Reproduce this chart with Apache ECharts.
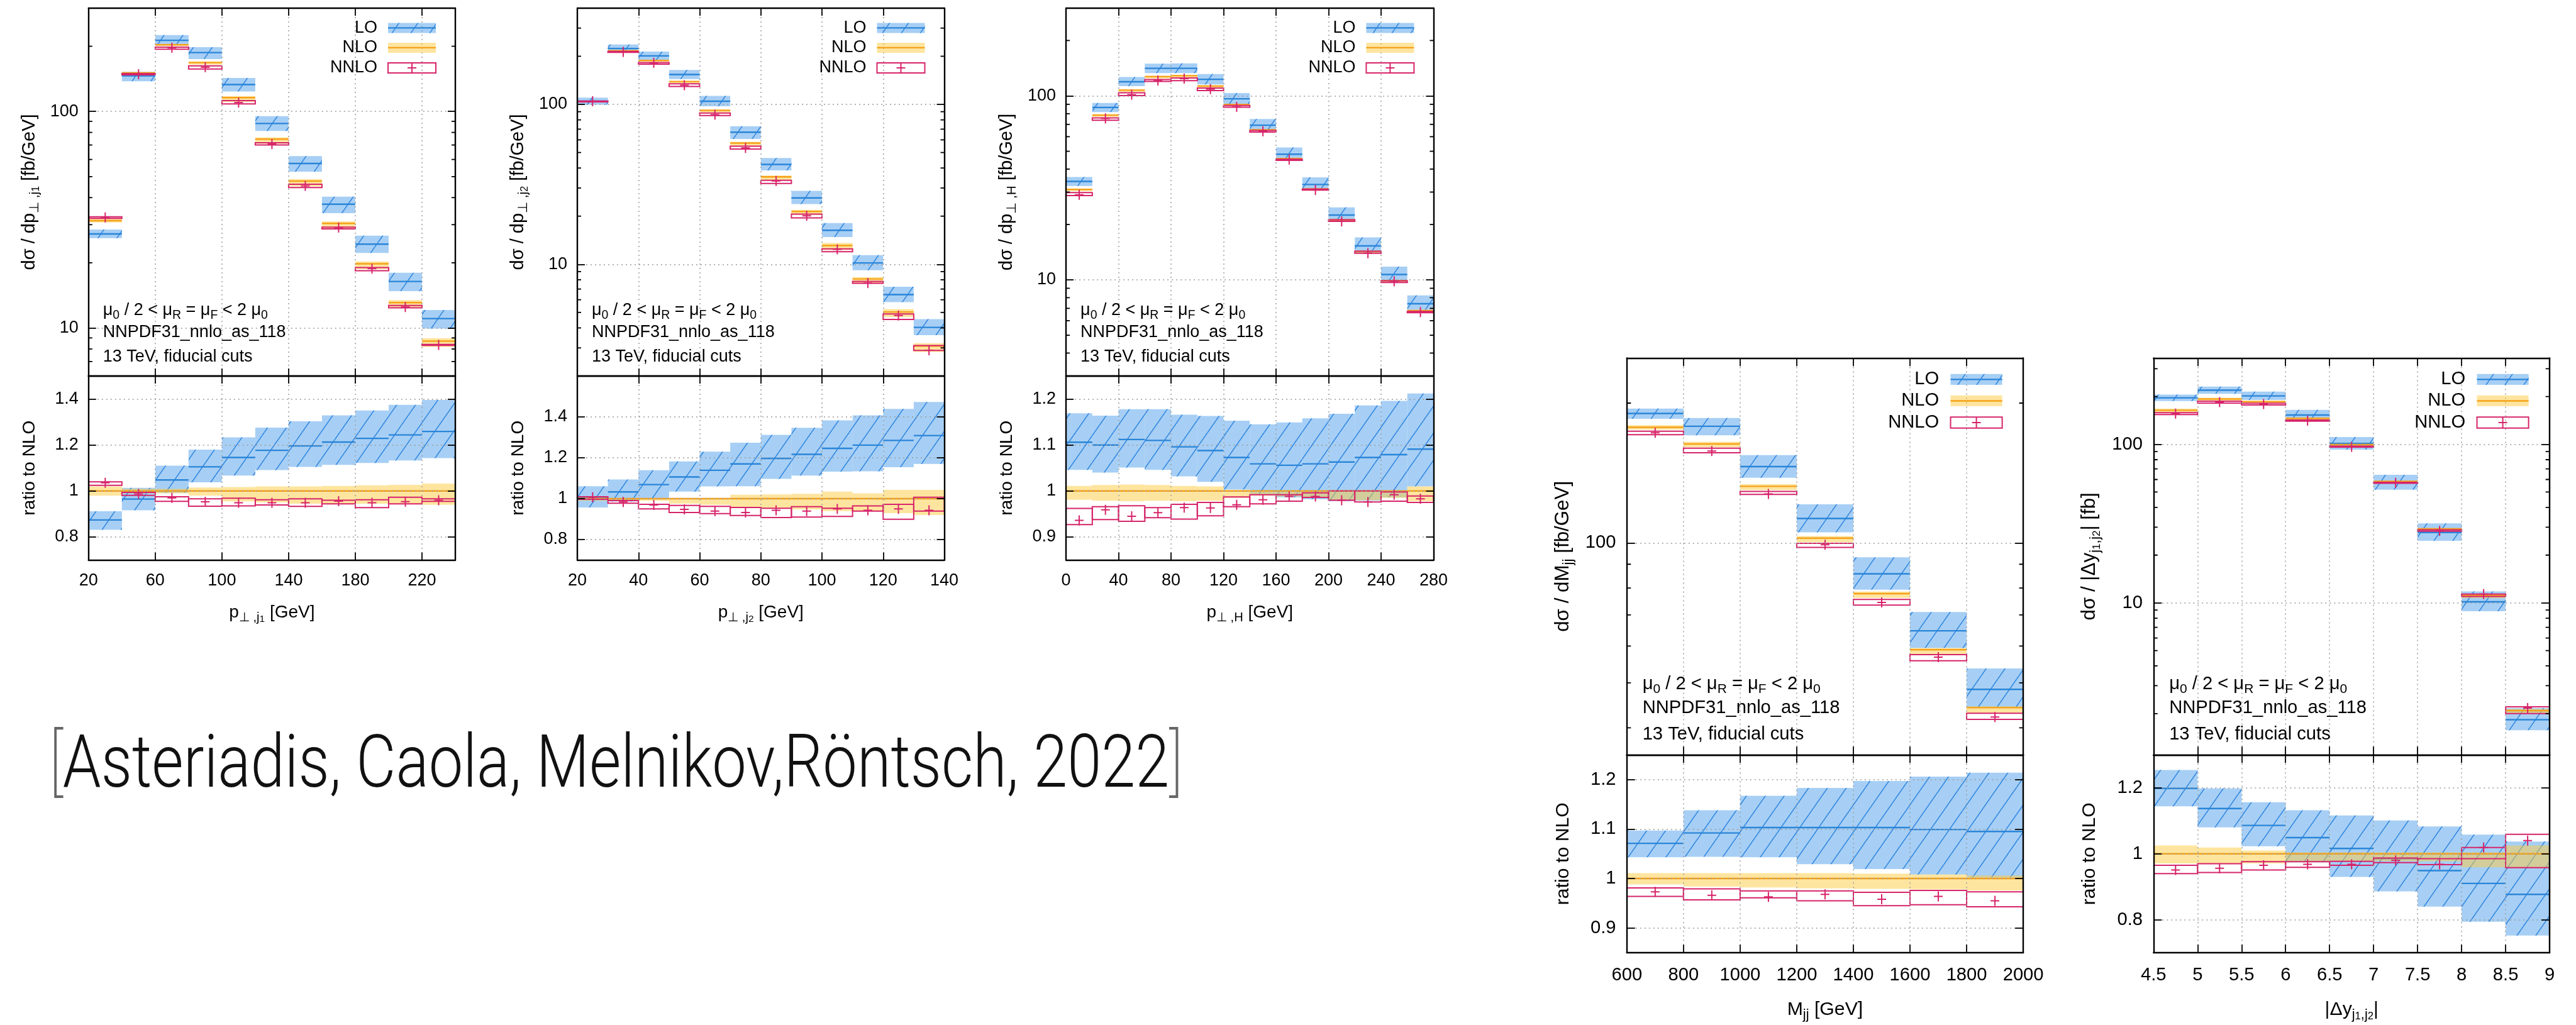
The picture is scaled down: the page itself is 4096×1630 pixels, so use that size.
<!DOCTYPE html>
<html><head><meta charset="utf-8">
<script src="https://cdn.jsdelivr.net/npm/echarts@6/dist/echarts.min.js"></script>
<style>html,body{margin:0;padding:0;background:#fff}#c{width:4096px;height:1630px}</style>
</head><body><div id="c"></div>
<script>
// ---------------- DATA ----------------
// Panel 1: p_T,j1
const p1Edges = [20,40,60,80,100,120,140,160,180,200,220,240];
const p1XTicks = [20,60,100,140,180,220];
const p1RTicks = [0.8,1,1.2,1.4];
const p1Minor = [7,8,9,20,30,40,50,60,70,80,90,200];
const p1LoC  = [27.2,146,213,187,133,88,57.5,37.3,24.4,16.4,11.05];
const p1LoLo = [26.0,137.9,201.4,174.4,123.6,81.3,52.7,33.9,22.2,14.8,9.94];
const p1LoHi = [28.5,152.6,225.3,198.2,142.8,95.1,62.2,40.4,26.7,18.0,12.1];
const p1NloC  = [31.3,150.5,203,168,115.8,74.5,47.7,30.4,19.8,13.1,8.7];
const p1NloLo = [30.7,149.0,201.0,164.6,110.6,70.8,45.1,28.7,18.7,12.4,8.18];
const p1NloHi = [31.9,152.0,205.0,170.5,117.8,76.0,48.7,31.1,20.3,13.45,8.98];
const p1NnloC  = [32.4,148.5,196.9,160.1,109.9,70.7,45.3,29.1,18.8,12.5,8.35];
const p1NnloLo = [32.1,147.6,193.9,156.9,108.3,70.0,44.5,28.7,18.4,12.4,8.31];
const p1NnloHi = [32.6,149.6,197.9,162.3,112.2,71.7,46.1,29.2,19.0,12.7,8.40];
const p1RLoC  = [0.874,0.965,1.048,1.105,1.146,1.177,1.196,1.213,1.229,1.244,1.259];
const p1RLoLo = [0.831,0.916,0.992,1.038,1.067,1.091,1.105,1.114,1.122,1.133,1.143];
const p1RLoHi = [0.912,1.014,1.110,1.180,1.233,1.276,1.303,1.329,1.350,1.375,1.396];
const p1RNloC  = [1,1,1,1,1,1,1,1,1,1,1];
const p1RNloLo = [0.98,0.99,0.99,0.98,0.955,0.95,0.945,0.945,0.945,0.945,0.94];
const p1RNloHi = [1.02,1.01,1.01,1.015,1.017,1.02,1.02,1.022,1.025,1.027,1.032];
const p1RNnloC  = [1.036,0.987,0.970,0.953,0.949,0.949,0.949,0.956,0.949,0.954,0.960];
const p1RNnloLo = [1.025,0.981,0.955,0.934,0.935,0.939,0.933,0.944,0.928,0.944,0.955];
const p1RNnloHi = [1.040,0.994,0.975,0.966,0.969,0.962,0.966,0.960,0.962,0.973,0.966];

// Panel 2: p_T,j2
const p2Edges = [20,30,40,50,60,70,80,90,100,110,120,130,140];
const p2XTicks = [20,40,60,80,100,120,140];
const p2RTicks = [0.8,1,1.2,1.4];
const p2Minor = [3,4,5,6,7,8,9,20,30,40,50,60,70,80,90,200,300];
const p2LoC  = [104.7,223.6,201.0,153.7,104.6,67.0,42.1,26.0,16.3,10.2,6.46,4.03];
const p2LoLo = [99.5,213.5,188.9,143.9,97.3,60.8,38.6,23.8,14.8,9.17,5.80,3.60];
const p2LoHi = [110.3,236.9,214.1,164.3,112.9,73.0,46.2,28.8,18.1,11.4,7.24,4.54];
const p2NloC  = [104,216.5,188,139,91.8,57.3,35.2,21.4,13.1,8.09,5.03,3.08];
const p2NloLo = [103,215,186,135.7,89.0,54.8,33.5,20.3,12.3,7.60,4.67,2.83];
const p2NloHi = [104.5,216.8,188.3,139.3,92.1,58.4,35.9,21.9,13.6,8.30,5.25,3.21];
const p2NnloC  = [104.7,213,182,131.8,86.2,53.4,33.2,20.1,12.4,7.63,4.78,2.90];
const p2NnloLo = [103.7,211.7,178.6,129.5,85.1,52.6,32.0,19.5,12.0,7.60,4.52,2.89];
const p2NnloHi = [104.9,214.6,182.7,134.4,88.3,54.8,33.5,20.6,12.5,7.81,4.89,3.10];
const p2RLoC  = [1.007,1.033,1.069,1.106,1.139,1.170,1.197,1.217,1.246,1.262,1.285,1.309];
const p2RLoLo = [0.957,0.986,1.0,1.035,1.060,1.061,1.097,1.113,1.132,1.134,1.154,1.170];
const p2RLoHi = [1.061,1.094,1.139,1.182,1.230,1.274,1.312,1.347,1.383,1.408,1.439,1.473];
const p2RNloC  = [1,1,1,1,1,1,1,1,1,1,1,1];
const p2RNloLo = [0.99,0.993,0.99,0.976,0.97,0.957,0.953,0.948,0.939,0.939,0.929,0.92];
const p2RNloHi = [1.005,1.002,1.002,1.002,1.003,1.019,1.021,1.024,1.035,1.026,1.043,1.043];
const p2RNnloC  = [1.007,0.984,0.969,0.948,0.939,0.932,0.943,0.939,0.950,0.943,0.950,0.943];
const p2RNnloLo = [0.997,0.978,0.950,0.932,0.927,0.918,0.908,0.910,0.913,0.939,0.899,0.939];
const p2RNnloHi = [1.009,0.991,0.972,0.967,0.962,0.957,0.953,0.961,0.953,0.965,0.972,1.007];

// Panel 3: p_T,H
const p3Edges = [0,20,40,60,80,100,120,140,160,180,200,220,240,260,280];
const p3XTicks = [0,40,80,120,160,200,240,280];
const p3RTicks = [0.9,1,1.1,1.2];
const p3Minor = [4,5,6,7,8,9,20,30,40,50,60,70,80,90,200];
const p3LoC  = [34.3,86.5,119.4,141.2,141.2,123.1,96.4,69.3,48.2,33.0,22.5,15.3,10.7,7.42];
const p3LoLo = [32.4,81.7,112.9,133.1,132.9,115.4,90.1,64.9,45.0,30.6,20.7,14.0,9.76,6.87];
const p3LoHi = [36.2,91.5,126.5,149.8,150.2,131.5,103.5,74.9,52.4,36.1,24.8,17.0,11.8,8.24];
const p3NloC  = [31.0,78.6,107.4,127.2,128.8,113.1,89.8,65.4,45.6,31.2,21.2,14.3,9.9,6.80];
const p3NloLo = [30.4,76.9,105.0,124.5,126.0,110.7,88.5,64.7,45.1,30.7,20.8,14.0,9.75,6.65];
const p3NloHi = [31.3,79.6,108.9,128.9,130.2,114.2,90.0,65.5,45.7,31.3,21.3,14.35,9.95,6.87];
const p3NnloC  = [29.0,75.4,101.5,121.2,124.2,108.9,87.1,64.2,45.05,30.8,20.8,13.96,9.82,6.68];
const p3NnloLo = [28.7,73.7,100.3,119.8,120.9,107.0,86.7,63.6,44.6,30.75,20.78,13.96,9.68,6.63];
const p3NnloHi = [29.8,75.9,104.0,122.6,125.1,110.3,88.6,64.9,45.2,31.1,21.2,14.3,9.88,6.73];
const p3RLoC  = [1.106,1.100,1.112,1.110,1.096,1.088,1.073,1.059,1.056,1.059,1.063,1.073,1.079,1.091];
const p3RLoLo = [1.046,1.040,1.051,1.046,1.032,1.020,1.003,0.992,0.986,0.982,0.978,0.979,0.986,1.010];
const p3RLoHi = [1.169,1.164,1.178,1.178,1.166,1.163,1.153,1.145,1.149,1.158,1.168,1.186,1.196,1.212];
const p3RNloC  = [1,1,1,1,1,1,1,1,1,1,1,1,1,1];
const p3RNloLo = [0.981,0.979,0.978,0.979,0.978,0.979,0.985,0.99,0.988,0.985,0.98,0.98,0.985,0.978];
const p3RNloHi = [1.011,1.013,1.014,1.013,1.011,1.010,1.002,1.001,1.001,1.001,1.001,1.001,1.001,1.01];
const p3RNnloC  = [0.936,0.959,0.945,0.953,0.964,0.963,0.970,0.981,0.988,0.988,0.980,0.976,0.992,0.983];
const p3RNnloLo = [0.927,0.938,0.934,0.942,0.939,0.946,0.966,0.972,0.978,0.986,0.980,0.976,0.978,0.975];
const p3RNnloHi = [0.962,0.966,0.968,0.964,0.971,0.975,0.987,0.992,0.992,0.996,1.0,1.0,0.998,0.989];

// Panel 4: M_jj
const p4Edges = [600,800,1000,1200,1400,1600,1800,2000];
const p4XTicks = [600,800,1000,1200,1400,1600,1800,2000];
const p4RTicks = [0.9,1,1.1,1.2];
const p4Minor = [40,50,60,70,80,90,200];
const p4LoC  = [190.0,178.3,146.0,112.9,85.8,64.7,48.4];
const p4LoLo = [185.0,170.5,138.1,105.4,79.3,59.4,44.3];
const p4LoHi = [194.6,185.8,154.5,121.1,93.1,71.0,53.7];
const p4NloC  = [177.4,163.3,132.4,102.4,77.8,58.9,44.2];
const p4NloLo = [175.3,160.7,130.0,100.4,76.2,57.6,43.1];
const p4NloHi = [179.4,165.1,133.9,103.5,78.6,59.4,44.5];
const p4NnloC  = [172.6,157.7,127.5,99.1,74.5,56.8,42.2];
const p4NnloLo = [171.0,156.3,127.2,97.8,73.5,55.8,41.7];
const p4NnloHi = [174.0,159.9,129.1,99.8,75.6,57.5,43.0];
const p4RLoC  = [1.071,1.092,1.103,1.103,1.103,1.099,1.095];
const p4RLoLo = [1.043,1.044,1.043,1.029,1.019,1.008,1.002];
const p4RLoHi = [1.097,1.138,1.167,1.183,1.197,1.206,1.214];
const p4RNloC  = [1,1,1,1,1,1,1];
const p4RNloLo = [0.988,0.984,0.982,0.980,0.979,0.978,0.976];
const p4RNloHi = [1.011,1.011,1.011,1.011,1.010,1.008,1.006];
const p4RNnloC  = [0.973,0.966,0.963,0.968,0.958,0.964,0.955];
const p4RNnloLo = [0.964,0.957,0.961,0.955,0.945,0.947,0.943];
const p4RNnloHi = [0.981,0.979,0.975,0.975,0.972,0.976,0.973];

// Panel 5: |Delta y_j1,j2|
const p5Edges = [4.5,5,5.5,6,6.5,7,7.5,8,8.5,9];
const p5XTicks = [4.5,5,5.5,6,6.5,7,7.5,8,8.5,9];
const p5RTicks = [0.8,1,1.2];
const p5Minor = [2,3,4,5,6,7,8,9,20,30,40,50,60,70,80,90,200,300];
const p5LoC  = [196.5,219.4,202,152.9,101.2,57.5,27.8,10.15,1.83];
const p5LoLo = [187.6,208.4,190.3,142.0,92.6,51.7,24.6,8.85,1.57];
const p5LoHi = [205.7,231.2,215.0,165.0,111.2,64.3,31.7,11.8,2.17];
const p5NloC  = [164,193,186,145.8,99.6,58.4,29.3,11.15,2.09];
const p5NloLo = [159.2,187.4,180.6,142.0,97.3,57.0,28.6,10.7,2.0];
const p5NloHi = [168.1,196.7,187.9,146.4,100.0,58.6,29.4,11.2,2.14];
const p5NnloC  = [156.0,184.5,179.5,141.1,96.4,57.2,28.4,11.36,2.17];
const p5NnloLo = [154.2,182.0,176.9,139.8,96.1,56.8,28.3,10.98,2.0];
const p5NnloHi = [158.3,187.2,181.5,142.3,97.3,57.6,28.9,11.36,2.21];
const p5RLoC  = [1.198,1.137,1.086,1.049,1.016,0.985,0.949,0.910,0.877];
const p5RLoLo = [1.144,1.080,1.023,0.974,0.930,0.886,0.840,0.794,0.752];
const p5RLoHi = [1.254,1.198,1.156,1.132,1.116,1.101,1.083,1.058,1.037];
const p5RNloC  = [1,1,1,1,1,1,1,1,1];
const p5RNloLo = [0.971,0.971,0.971,0.974,0.977,0.978,0.977,0.959,0.959];
const p5RNloHi = [1.025,1.019,1.010,1.004,1.004,1.004,1.004,1.004,1.025];
const p5RNnloC  = [0.951,0.956,0.965,0.968,0.968,0.980,0.968,1.019,1.040];
const p5RNnloLo = [0.940,0.943,0.951,0.959,0.965,0.973,0.967,0.985,0.958];
const p5RNnloHi = [0.965,0.970,0.976,0.976,0.977,0.987,0.985,1.019,1.059];

const legendNames = ['LO','NLO','NNLO'];
const noteLines = ['μ{s|0} / 2 < μ{s|R} = μ{s|F} < 2 μ{s|0}', 'NNPDF31_nnlo_as_118', '13 TeV, fiducial cuts'];
const citation = '[Asteriadis, Caola, Melnikov,Röntsch, 2022]';

// ---------------- LAYOUT / STYLE ----------------
const FONT = "'Liberation Sans', Arial, Helvetica, sans-serif";
const LO_FILL = 'rgba(95,168,236,0.55)';
const LO_LINE = '#2a85d8';
const NLO_FILL = 'rgba(253,204,64,0.5)';
const NLO_LINE = '#f6a11a';
const NNLO_COL = '#d6246a';

function makeHatch() {
  const w = 30, h = 43;
  const cv = document.createElement('canvas');
  cv.width = w; cv.height = h;
  const ctx = cv.getContext('2d');
  ctx.strokeStyle = 'rgba(38,128,222,0.95)';
  ctx.lineWidth = 1.5;
  [-w, 0, w].forEach(d => { ctx.beginPath(); ctx.moveTo(d, h); ctx.lineTo(d + w, 0); ctx.stroke(); });
  return cv;
}
const HATCH = { image: makeHatch(), repeat: 'repeat' };

const rows = [
  { top: 12.9, mid: 598.0, bottom: 890.5, k: 1 },
  { top: 569.4, mid: 1200.3, bottom: 1515.1, k: 1.08 }
];

const panels = [
  { row:0, left:140.8, right:724.0, edges:p1Edges, xMin:20, xMax:240, xTicks:p1XTicks, yMin:6, yMax:300, rMin:0.7, rMax:1.5, rTicks:p1RTicks, minor:p1Minor,
    main:[p1LoC,p1LoLo,p1LoHi,p1NloC,p1NloLo,p1NloHi,p1NnloC,p1NnloLo,p1NnloHi],
    ratio:[p1RLoC,p1RLoLo,p1RLoHi,p1RNloC,p1RNloLo,p1RNloHi,p1RNnloC,p1RNnloLo,p1RNnloHi],
    yTitle:'dσ / dp{s|⊥ ,j}{ss|1} [fb/GeV]', xTitle:'p{s|⊥ ,j}{ss|1} [GeV]' },
  { row:0, left:918.0, right:1501.5, edges:p2Edges, xMin:20, xMax:140, xTicks:p2XTicks, yMin:2, yMax:400, rMin:0.7, rMax:1.6, rTicks:p2RTicks, minor:p2Minor,
    main:[p2LoC,p2LoLo,p2LoHi,p2NloC,p2NloLo,p2NloHi,p2NnloC,p2NnloLo,p2NnloHi],
    ratio:[p2RLoC,p2RLoLo,p2RLoHi,p2RNloC,p2RNloLo,p2RNloHi,p2RNnloC,p2RNnloLo,p2RNnloHi],
    yTitle:'dσ / dp{s|⊥ ,j}{ss|2} [fb/GeV]', xTitle:'p{s|⊥ ,j}{ss|2} [GeV]' },
  { row:0, left:1695.1, right:2279.4, edges:p3Edges, xMin:0, xMax:280, xTicks:p3XTicks, yMin:3, yMax:300, rMin:0.85, rMax:1.25, rTicks:p3RTicks, minor:p3Minor,
    main:[p3LoC,p3LoLo,p3LoHi,p3NloC,p3NloLo,p3NloHi,p3NnloC,p3NnloLo,p3NnloHi],
    ratio:[p3RLoC,p3RLoLo,p3RLoHi,p3RNloC,p3RNloLo,p3RNloHi,p3RNnloC,p3RNnloLo,p3RNnloHi],
    yTitle:'dσ / dp{s|⊥ ,H} [fb/GeV]', xTitle:'p{s|⊥ ,H} [GeV]' },
  { row:1, left:2586.8, right:3217.1, edges:p4Edges, xMin:600, xMax:2000, xTicks:p4XTicks, yMin:35, yMax:250, rMin:0.85, rMax:1.25, rTicks:p4RTicks, minor:p4Minor,
    main:[p4LoC,p4LoLo,p4LoHi,p4NloC,p4NloLo,p4NloHi,p4NnloC,p4NnloLo,p4NnloHi],
    ratio:[p4RLoC,p4RLoLo,p4RLoHi,p4RNloC,p4RNloLo,p4RNloHi,p4RNnloC,p4RNnloLo,p4RNnloHi],
    yTitle:'dσ / dM{s|jj} [fb/GeV]', xTitle:'M{s|jj} [GeV]' },
  { row:1, left:3424.3, right:4054.1, edges:p5Edges, xMin:4.5, xMax:9, xTicks:p5XTicks, yMin:1.1, yMax:350, rMin:0.7, rMax:1.3, rTicks:p5RTicks, minor:p5Minor,
    main:[p5LoC,p5LoLo,p5LoHi,p5NloC,p5NloLo,p5NloHi,p5NnloC,p5NnloLo,p5NnloHi],
    ratio:[p5RLoC,p5RLoLo,p5RLoHi,p5RNloC,p5RNloLo,p5RNloHi,p5RNnloC,p5RNnloLo,p5RNnloHi],
    yTitle:'dσ / |Δy{s|j}{ss|1}{s|,j}{ss|2}| [fb]', xTitle:'|Δy{s|j}{ss|1}{s|,j}{ss|2}|' }
];

// ---------------- RENDERERS ----------------
function boxPts(api) {
  const a = api.coord([api.value(0), api.value(4)]);
  const b = api.coord([api.value(1), api.value(3)]);
  const c = api.coord([api.value(0), api.value(2)]);
  return { a, b, c, shape: { x: a[0], y: a[1], width: b[0] - a[0], height: b[1] - a[1] } };
}
function renderLO(params, api) {
  const p = boxPts(api);
  return { type: 'group', children: [
    { type: 'rect', shape: p.shape, style: { fill: LO_FILL } },
    { type: 'rect', shape: p.shape, style: { fill: HATCH } },
    { type: 'line', shape: { x1: p.a[0], y1: p.c[1], x2: p.b[0], y2: p.c[1] }, style: { stroke: LO_LINE, lineWidth: 2.4 } }
  ] };
}
function renderNLO(params, api) {
  const p = boxPts(api);
  return { type: 'group', children: [
    { type: 'rect', shape: p.shape, style: { fill: NLO_FILL } },
    { type: 'line', shape: { x1: p.a[0], y1: p.c[1], x2: p.b[0], y2: p.c[1] }, style: { stroke: NLO_LINE, lineWidth: 2.4 } }
  ] };
}
function renderNNLO(params, api) {
  const p = boxPts(api);
  const xm = (p.a[0] + p.b[0]) / 2, ym = p.c[1];
  return { type: 'group', children: [
    { type: 'rect', shape: p.shape, style: { fill: 'none', stroke: NNLO_COL, lineWidth: 2 } },
    { type: 'line', shape: { x1: xm - 7, y1: ym, x2: xm + 7, y2: ym }, style: { stroke: NNLO_COL, lineWidth: 2 } },
    { type: 'line', shape: { x1: xm, y1: ym - 8, x2: xm, y2: ym + 8 }, style: { stroke: NNLO_COL, lineWidth: 2 } }
  ] };
}
function makeMinorRender(L) {
  return function (params, api) {
    const y = api.coord([api.value(0), api.value(1)])[1];
    const cs = params.coordSys;
    return { type: 'group', children: [
      { type: 'line', shape: { x1: cs.x, y1: y, x2: cs.x + L, y2: y }, style: { stroke: '#000', lineWidth: 1.8 } },
      { type: 'line', shape: { x1: cs.x + cs.width - L, y1: y, x2: cs.x + cs.width, y2: y }, style: { stroke: '#000', lineWidth: 1.8 } }
    ] };
  };
}
function rich(fs) {
  return {
    s:  { fontSize: fs * 0.72, lineHeight: fs * 0.72, fontFamily: FONT, fill: '#000', verticalAlign: 'bottom' },
    ss: { fontSize: fs * 0.55, lineHeight: fs * 0.55, fontFamily: FONT, fill: '#000', verticalAlign: 'bottom' }
  };
}
function txt(x, y, text, fs, extra, styleExtra) {
  return Object.assign({ type: 'text', x: x, y: y, z: 100, silent: true,
    style: Object.assign({ text: text, fontSize: fs, fontFamily: FONT, fill: '#000', align: 'left', verticalAlign: 'middle', lineHeight: fs * 1.3, rich: rich(fs) }, styleExtra || {}) }, extra || {});
}
const logFmt = v => { const l = Math.log10(v); return Math.abs(l - Math.round(l)) < 1e-6 ? String(Math.round(v)) : ''; };
const plainFmt = v => String(Math.round(v * 1000) / 1000);

// ---------------- BUILD ----------------
const grids = [], xAxes = [], yAxes = [], series = [], graphics = [];
const axLine = { show: true, onZero: false, lineStyle: { color: '#000', width: 2.4 } };
const tickLS = { color: '#000', width: 1.8 };
const split = { show: true, lineStyle: { color: '#9a9a9a', width: 1.5, type: [2, 5] } };

panels.forEach(p => {
  const r = rows[p.row], k = r.k;
  const W = p.right - p.left;
  const subs = [
    { top: r.top, h: r.mid - r.top, isRatio: false, d: p.main },
    { top: r.mid, h: r.bottom - r.mid, isRatio: true, d: p.ratio }
  ];
  subs.forEach(s => {
    const gi = grids.length;
    grids.push({ left: p.left, top: s.top, width: W, height: s.h, show: false, containLabel: false });
    const xb = { gridIndex: gi, type: 'value', min: p.xMin, max: p.xMax, z: 10, axisLine: axLine,
      axisTick: { show: true, inside: true, length: 12 * k, lineStyle: tickLS, customValues: p.xTicks } };
    xAxes.push(Object.assign({}, xb, { position: 'bottom', splitLine: split,
      axisLabel: { show: s.isRatio, customValues: p.xTicks, formatter: plainFmt, fontSize: 27 * k, fontFamily: FONT, color: '#000', margin: 20 * k } }));
    xAxes.push(Object.assign({}, xb, { position: 'top', splitLine: { show: false }, axisLabel: { show: false } }));
    const yt = s.isRatio ? { type: 'value', min: p.rMin, max: p.rMax } : { type: 'log', logBase: 10, min: p.yMin, max: p.yMax };
    const tick = { show: true, inside: true, length: 12 * k, lineStyle: tickLS };
    if (s.isRatio) tick.customValues = p.rTicks;
    const lab = { fontSize: 27 * k, fontFamily: FONT, color: '#000', margin: 16 * k };
    if (s.isRatio) { lab.customValues = p.rTicks; lab.formatter = plainFmt; }
    else { lab.formatter = logFmt; lab.showMinLabel = false; lab.showMaxLabel = false; }
    yAxes.push(Object.assign({ gridIndex: gi, position: 'left', z: 10, axisLine: axLine, axisTick: tick, splitLine: split, axisLabel: lab }, yt));
    yAxes.push(Object.assign({ gridIndex: gi, position: 'right', z: 10, axisLine: axLine, axisTick: tick, splitLine: { show: false }, axisLabel: { show: false } }, yt));

    const d = s.d;
    const mk = (c, lo, hi) => c.map((v, i) => [p.edges[i], p.edges[i + 1], v, lo[i], hi[i]]);
    const base = { type: 'custom', coordinateSystem: 'cartesian2d', xAxisIndex: 2 * gi, yAxisIndex: 2 * gi, clip: true, silent: true, animation: false, encode: { x: [0, 1], y: [2, 3, 4] } };
    series.push(Object.assign({}, base, { z: 2, renderItem: renderLO, data: mk(d[0], d[1], d[2]) }));
    series.push(Object.assign({}, base, { z: 3, renderItem: renderNLO, data: mk(d[3], d[4], d[5]) }));
    series.push(Object.assign({}, base, { z: 4, renderItem: renderNNLO, data: mk(d[6], d[7], d[8]) }));
    if (!s.isRatio) {
      series.push({ type: 'custom', coordinateSystem: 'cartesian2d', xAxisIndex: 2 * gi, yAxisIndex: 2 * gi, clip: true, silent: true, animation: false, z: 5,
        encode: { x: 0, y: 1 }, renderItem: makeMinorRender(6 * k), data: p.minor.map(v => [p.xMin, v]) });
    }
  });

  // legend
  const kx2 = p.right - 31 * k, kw = 76 * k, kx1 = kx2 - kw, kh = 16 * k;
  const ly = [31.5, 63, 95].map(v => r.top + v * k);
  legendNames.forEach((nm, i) => {
    graphics.push(txt(kx1 - 17 * k, ly[i], nm, 27 * k, {}, { align: 'right' }));
  });
  const rs = (y) => ({ x: kx1, y: y - kh / 2, width: kw, height: kh });
  graphics.push({ type: 'rect', z: 100, silent: true, shape: rs(ly[0]), style: { fill: LO_FILL } });
  graphics.push({ type: 'rect', z: 100, silent: true, shape: rs(ly[0]), style: { fill: HATCH } });
  graphics.push({ type: 'line', z: 101, silent: true, shape: { x1: kx1, y1: ly[0], x2: kx2, y2: ly[0] }, style: { stroke: LO_LINE, lineWidth: 2.4 } });
  graphics.push({ type: 'rect', z: 100, silent: true, shape: rs(ly[1]), style: { fill: NLO_FILL } });
  graphics.push({ type: 'line', z: 101, silent: true, shape: { x1: kx1, y1: ly[1], x2: kx2, y2: ly[1] }, style: { stroke: NLO_LINE, lineWidth: 2.4 } });
  graphics.push({ type: 'rect', z: 100, silent: true, shape: rs(ly[2]), style: { fill: 'none', stroke: NNLO_COL, lineWidth: 2 } });
  const xm = (kx1 + kx2) / 2;
  graphics.push({ type: 'line', z: 101, silent: true, shape: { x1: xm - 7, y1: ly[2], x2: xm + 7, y2: ly[2] }, style: { stroke: NNLO_COL, lineWidth: 2 } });
  graphics.push({ type: 'line', z: 101, silent: true, shape: { x1: xm, y1: ly[2] - 8, x2: xm, y2: ly[2] + 8 }, style: { stroke: NNLO_COL, lineWidth: 2 } });

  // annotation
  [104, 69, 30].forEach((off, i) => {
    graphics.push(txt(p.left + 23 * k, r.mid - off * k, noteLines[i], 27 * k));
  });

  // axis titles
  graphics.push(txt(p.left - 94 * k, (r.top + r.mid) / 2, p.yTitle, 29 * k, { rotation: Math.PI / 2 }, { align: 'center' }));
  graphics.push(txt(p.left - 94 * k, (r.mid + r.bottom) / 2, 'ratio to NLO', 28 * k, { rotation: Math.PI / 2 }, { align: 'center' }));
  graphics.push(txt((p.left + p.right) / 2, r.bottom + 83.5 * k, p.xTitle, 28 * k, {}, { align: 'center' }));
});

// citation
(function () {
  const fs = 116;
  const cv = document.createElement('canvas').getContext('2d');
  cv.font = '300 ' + fs + 'px Roboto';
  const w = cv.measureText(citation).width || 1800;
  const sx = 1806 / w;
  graphics.push({ type: 'text', x: 78, y: 1222, scaleX: sx, z: 100, silent: true,
    style: { text: '{b|[}' + citation.slice(1, -1) + '{b|]}', fontSize: fs, fontFamily: 'Roboto', fontWeight: 300, fill: '#111', align: 'left', verticalAlign: 'middle',
      rich: { b: { fontSize: fs, fontFamily: 'Roboto', fontWeight: 200, fill: '#666' } } } });
})();

const chart = echarts.init(document.getElementById('c'), null, { renderer: 'canvas', width: 4096, height: 1630 });
chart.setOption({
  animation: false,
  backgroundColor: '#fff',
  grid: grids, xAxis: xAxes, yAxis: yAxes, series: series, graphic: { elements: graphics }
});
</script></body></html>
